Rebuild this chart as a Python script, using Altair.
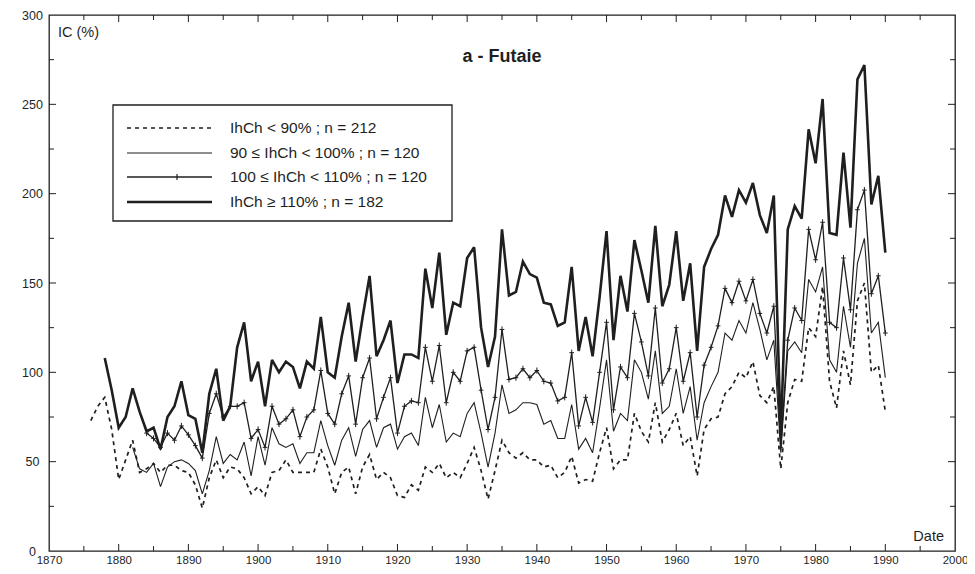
import altair as alt
import pandas as pd

# ---------------- data ----------------
top_start = 1878   # IhCh >= 110 %
top_vals = [108, 90, 69, 75, 91, 78, 67, 69, 57, 75, 81, 95, 76, 74, 55, 88, 102, 73, 81, 114,
            128, 95, 106, 81, 107, 100, 106, 103, 91, 106, 102, 131, 100, 97, 120, 139, 106, 131,
            154, 109, 118, 129, 94, 110, 110, 108, 158, 136, 167, 121, 139, 137, 164, 170, 125,
            103, 120, 180, 143, 145, 162, 155, 153, 139, 138, 126, 128, 159, 112, 131, 109, 142,
            179, 118, 154, 134, 174, 157, 139, 182, 137, 149, 179, 140, 161, 112, 159, 169, 177,
            199, 187, 202, 195, 206, 188, 178, 199, 64, 180, 193, 186, 236, 217, 253, 178, 177,
            223, 181, 264, 272, 194, 210, 167]

mark_start = 1884  # 100 <= IhCh < 110 %
mark_vals = [66, 63, 58, 66, 62, 70, 65, 59, 52, 77, 88, 75, 81, 81, 83, 63, 68, 58, 81, 71, 74,
             79, 64, 75, 79, 101, 77, 71, 88, 98, 71, 97, 108, 74, 86, 97, 66, 81, 84, 83, 114, 95,
             115, 83, 100, 95, 112, 114, 90, 68, 86, 124, 96, 97, 102, 97, 101, 95, 94, 84, 86, 111,
             70, 86, 72, 100, 128, 79, 103, 97, 133, 117, 98, 136, 94, 102, 125, 95, 111, 75, 104,
             114, 126, 147, 139, 151, 140, 152, 133, 122, 137, 58, 118, 136, 129, 180, 163, 184,
             128, 125, 164, 135, 191, 202, 144, 154, 122]

thin_start = 1882  # 90 <= IhCh < 100 %
thin_vals = [58, 46, 44, 49, 36, 47, 50, 51, 49, 45, 32, 45, 64, 49, 54, 51, 61, 42, 64, 48, 69,
             60, 58, 60, 49, 55, 55, 73, 59, 48, 62, 69, 53, 68, 73, 58, 69, 71, 57, 64, 66, 59, 86,
             69, 82, 61, 66, 64, 77, 83, 66, 47, 66, 93, 77, 79, 83, 83, 82, 71, 73, 63, 63, 82, 57,
             63, 55, 80, 107, 67, 77, 73, 107, 100, 85, 112, 77, 81, 102, 77, 92, 62, 83, 92, 100,
             122, 118, 129, 122, 139, 124, 107, 118, 55, 112, 117, 111, 152, 145, 159, 107, 100,
             137, 114, 161, 175, 122, 128, 97]

dash_start = 1876  # IhCh < 90 %
dash_vals = [73, 81, 86, 68, 40, 51, 62, 44, 46, 49, 44, 48, 48, 45, 44, 37, 24, 41, 51, 41, 47,
             46, 41, 32, 36, 31, 44, 45, 51, 44, 44, 44, 44, 57, 47, 32, 44, 47, 32, 47, 54, 40, 44,
             41, 31, 30, 37, 34, 47, 44, 49, 41, 44, 41, 49, 58, 45, 29, 45, 62, 55, 52, 55, 51, 51,
             47, 48, 41, 44, 53, 38, 40, 39, 55, 69, 46, 51, 51, 77, 67, 61, 83, 61, 68, 77, 59, 64,
             42, 68, 74, 75, 88, 92, 100, 97, 106, 87, 83, 92, 46, 83, 96, 95, 125, 120, 148, 95,
             80, 112, 93, 140, 150, 100, 104, 78]

legend_labels = ["IhCh < 90% ; n = 212", "90 \u2264 IhCh < 100% ; n = 120",
                 "100 \u2264 IhCh < 110% ; n = 120", "IhCh \u2265 110% ; n = 182"]

x_label_values = [1870, 1880, 1890, 1900, 1910, 1920, 1930, 1940, 1950, 1960, 1970, 1980, 1990, 2000]
y_label_values = [0, 50, 100, 150, 200, 250, 300]
x_major_ticks = [1880, 1890, 1900, 1910, 1920, 1930, 1940, 1950, 1960, 1970, 1980, 1990]
x_minor_ticks = [1875, 1885, 1895, 1905, 1915, 1925, 1935, 1945, 1955, 1965, 1975, 1985, 1995]
y_major_ticks = [50, 100, 150, 200, 250]
y_minor_ticks = [25, 75, 125, 175, 225, 275]


def frame(start, vals):
    return pd.DataFrame({"year": list(range(start, start + len(vals))), "ic": vals})


W, H = 906, 536
FONT = "Liberation Sans"
INK = "#1f1f1f"

xs = alt.Scale(domain=[1870, 2000], nice=False, zero=False)
ys = alt.Scale(domain=[0, 300], nice=False)

x_axis = alt.Axis(values=x_label_values, format="d", ticks=False, tickSize=0, domain=False,
                  grid=False, labelPadding=3, labelFontSize=11.5, labelFont=FONT,
                  labelColor=INK, title=None, labelFlush=False, labelOverlap=False)
y_axis = alt.Axis(values=y_label_values, format="d", ticks=False, tickSize=0, domain=False,
                  grid=False, labelPadding=17, labelAlign="center", labelFontSize=12.5,
                  labelFont=FONT, labelColor=INK, title=None, labelFlush=False,
                  labelOverlap=False)

XE = lambda f: alt.X(f, scale=xs, axis=x_axis)
YE = lambda f: alt.Y(f, scale=ys, axis=y_axis)


def line_layer(df, width, dash=None):
    kw = dict(color=INK, strokeWidth=width, strokeJoin="miter", strokeMiterLimit=3)
    if dash:
        kw["strokeDash"] = dash
    return alt.Chart(df).mark_line(**kw).encode(x=XE("year:Q"), y=YE("ic:Q"))


dash_line = line_layer(frame(dash_start, dash_vals), 1.7, [4, 4])
thin_line = line_layer(frame(thin_start, thin_vals), 1.1)
mark_line = line_layer(frame(mark_start, mark_vals), 1.3)
mark_pts = alt.Chart(frame(mark_start, mark_vals)).mark_point(
    shape="M-1,0L1,0M0,-1.3L0,1.3", size=22, filled=False, color=INK, strokeWidth=1, opacity=1
).encode(x=XE("year:Q"), y=YE("ic:Q"))
top_line = line_layer(frame(top_start, top_vals), 2.6)


# inward ticks on all four sides
def xticks(vals, length):
    d = pd.DataFrame({"t": vals})
    bottom = alt.Chart(d).mark_rule(color=INK, strokeWidth=1).encode(
        x=XE("t:Q"), y=alt.value(H), y2=alt.value(H - length))
    top = alt.Chart(d).mark_rule(color=INK, strokeWidth=1).encode(
        x=XE("t:Q"), y=alt.value(0), y2=alt.value(length))
    return [bottom, top]


def yticks(vals, length):
    d = pd.DataFrame({"t": vals})
    left = alt.Chart(d).mark_rule(color=INK, strokeWidth=1).encode(
        y=YE("t:Q"), x=alt.value(0), x2=alt.value(length))
    right = alt.Chart(d).mark_rule(color=INK, strokeWidth=1).encode(
        y=YE("t:Q"), x=alt.value(W), x2=alt.value(W - length))
    return [left, right]


tick_layers = (xticks(x_major_ticks, 7) + xticks(x_minor_ticks, 5)
               + yticks(y_major_ticks, 7) + yticks(y_minor_ticks, 5))

one = pd.DataFrame({"k": [0]})

# legend box (drawn by hand, as in the original figure)
legend_box = alt.Chart(one).mark_rect(fill="white", stroke=INK, strokeWidth=1.3).encode(
    x=alt.value(64), x2=alt.value(403), y=alt.value(90), y2=alt.value(206))

legend_styles = [(1.7, [4, 4]), (1.1, None), (1.3, None), (2.6, None)]
legend_rows = [113, 138, 162, 187]
legend_layers = []
for label, (w, dash), ry in zip(legend_labels, legend_styles, legend_rows):
    kw = dict(color=INK, strokeWidth=w)
    if dash:
        kw["strokeDash"] = dash
    legend_layers.append(alt.Chart(one).mark_rule(**kw).encode(
        x=alt.value(78), x2=alt.value(163), y=alt.value(ry)))
    legend_layers.append(alt.Chart(one).mark_text(
        align="left", baseline="middle", fontSize=15.5, font=FONT, color=INK).encode(
        x=alt.value(181), y=alt.value(ry), text=alt.value(label)))
legend_layers.append(alt.Chart(one).mark_rule(color=INK, strokeWidth=1.2).encode(
    x=alt.value(128), y=alt.value(legend_rows[2] - 3), y2=alt.value(legend_rows[2] + 3)))

title_txt = alt.Chart(one).mark_text(
    align="center", baseline="middle", fontSize=18, fontWeight="bold", font=FONT, color=INK
).encode(x=alt.value(453), y=alt.value(42), text=alt.value("a - Futaie"))
ic_txt = alt.Chart(one).mark_text(
    align="left", baseline="middle", fontSize=14.5, font=FONT, color=INK
).encode(x=alt.value(9), y=alt.value(18), text=alt.value("IC (%)"))
date_txt = alt.Chart(one).mark_text(
    align="right", baseline="middle", fontSize=14.5, font=FONT, color=INK
).encode(x=alt.value(895), y=alt.value(522), text=alt.value("Date"))

chart = alt.layer(
    dash_line, thin_line, mark_line, mark_pts, top_line,
    *tick_layers, legend_box, *legend_layers, title_txt, ic_txt, date_txt
).properties(
    width=W, height=H,
    padding={"left": 41, "top": 7, "right": 12, "bottom": 15},
    autosize=alt.AutoSizeParams(type="none"),
    background="white",
).configure_view(stroke=INK, strokeWidth=1.3)

chart.save("out.html", embed_options={"renderer": "svg", "actions": False})
